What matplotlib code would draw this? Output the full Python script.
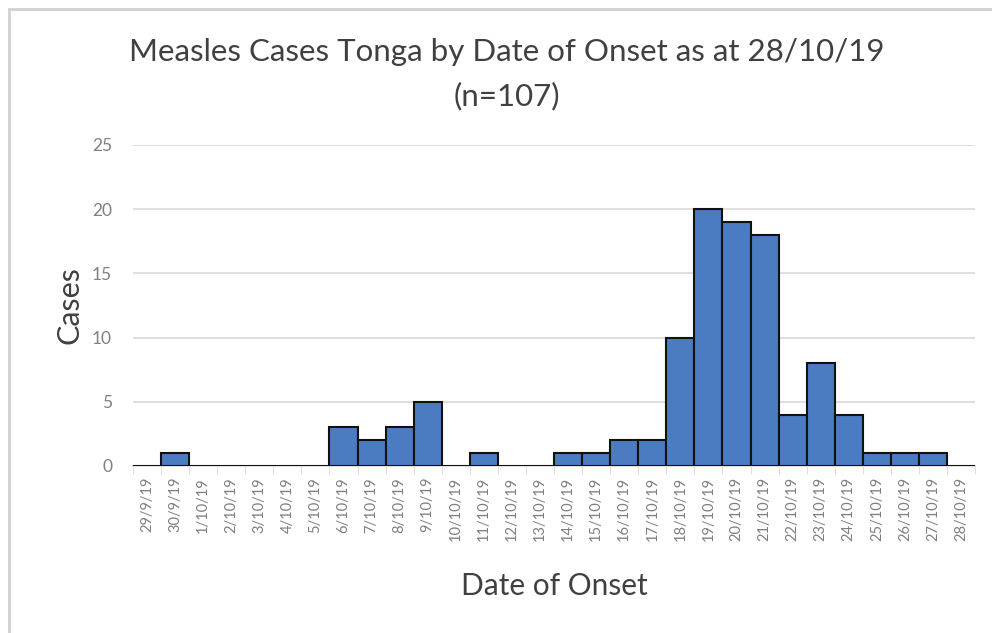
import matplotlib.pyplot as plt
from matplotlib.patches import Rectangle

dates = ["29/9/19", "30/9/19"] + [f"{d}/10/19" for d in range(1, 29)]
cases = [0, 1, 0, 0, 0, 0, 0, 3, 2, 3, 5, 0, 1, 0, 0, 1, 1, 2, 2, 10,
         20, 19, 18, 4, 8, 4, 1, 1, 1, 0]

plt.rcParams["font.family"] = ["Lato", "DejaVu Sans"]

fig = plt.figure(figsize=(9.92, 6.33), dpi=100)
# chart-area border, only left and top visible inside the picture
fig.patches.append(Rectangle((0.009, -0.01), 1.2, 0.996, transform=fig.transFigure,
                             fill=False, edgecolor="#d0d0d0", linewidth=2))
ax = fig.add_axes([0.134, 0.264, 0.849, 0.507])

x = list(range(len(dates)))
ax.bar(x, cases, width=1.0, color="#4b7bc0", edgecolor="#111111", linewidth=1.5, zorder=3)

ax.set_xlim(-0.5, len(dates) - 0.5)
ax.set_ylim(0, 25)
ax.set_yticks([0, 5, 10, 15, 20, 25])
ax.set_xticks(x)
ax.set_xticklabels(dates, rotation=90, fontsize=10.5, color="#7f7f7f")
ax.set_xticks([i - 0.5 for i in range(len(dates) + 1)], minor=True)
ax.tick_params(axis="x", which="major", length=0, pad=8)
ax.tick_params(axis="x", which="minor", length=6, color="#d9d9d9")
ax.tick_params(axis="y", length=0, labelsize=12.5, labelcolor="#808080", pad=15)

ax.grid(axis="y", color="#d9d9d9", linewidth=1.2, zorder=0)
for s in ["top", "right", "left"]:
    ax.spines[s].set_visible(False)
ax.spines["bottom"].set_color("#d9d9d9")
ax.spines["bottom"].set_linewidth(1.2)

ax.set_ylabel("Cases", fontsize=22, color="#404040", labelpad=6)
ax.set_xlabel("Date of Onset", fontsize=21.5, color="#404040", labelpad=22)
fig.text(0.511, 0.918, "Measles Cases Tonga by Date of Onset as at 28/10/19",
         ha="center", va="center", fontsize=22.5, color="#404040")
fig.text(0.511, 0.848, "(n=107)", ha="center", va="center", fontsize=22.5, color="#404040")

fig.savefig("out.png", dpi=100)
